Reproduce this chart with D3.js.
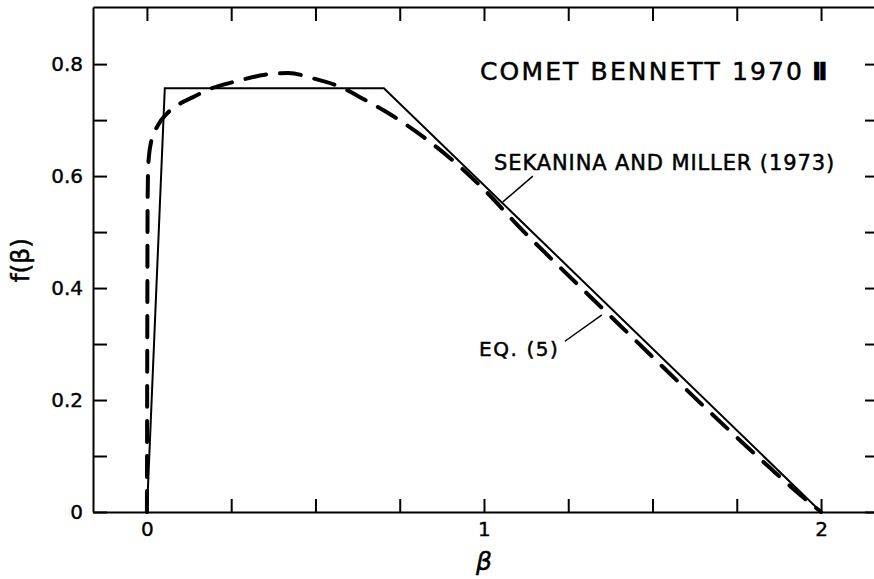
<!DOCTYPE html>
<html>
<head>
<meta charset="utf-8">
<script src="https://cdn.jsdelivr.net/npm/d3@7"></script>
<style>
body { margin: 0; background: #fff; }
svg { display: block; }
.axis path, .axis line { stroke: #000; stroke-width: 2; }
.axis text { font-family: "DejaVu Sans", sans-serif; font-size: 20px; fill: #000; stroke: #000; stroke-width: 0.4; }
.lbl { font-family: "DejaVu Sans", sans-serif; fill: #000; stroke: #000; stroke-width: 0.5; }
</style>
</head>
<body>
<div class="chart"></div>
<script>
// Data ---------------------------------------------------------------------
// Sekanina and Miller (1973): trapezoid
const smBeta = [0, 0.053, 0.703, 2.0];
const smF = [0, 0.757, 0.757, 0];

// Eq. (5): dashed curve
const eqBeta = [0, 0.001, 0.002, 0.004, 0.012, 0.033, 0.06, 0.1, 0.137, 0.18, 0.27, 0.35, 0.42, 0.49, 0.593, 0.632, 0.712, 0.82, 0.93, 1.01, 1.1, 1.2, 1.344, 1.5, 1.65, 1.74, 1.85, 1.93, 2.0];
const eqF = [0, 0.3, 0.55, 0.62, 0.66, 0.691, 0.712, 0.73, 0.741, 0.754, 0.77, 0.781, 0.784, 0.775, 0.754, 0.741, 0.714, 0.67, 0.616, 0.57, 0.512, 0.452, 0.368, 0.277, 0.19, 0.139, 0.078, 0.035, 0];

const xTicks = [0, 0.25, 0.5, 0.75, 1, 1.25, 1.5, 1.75, 2];
const xTickLabels = {0: "0", 1: "1", 2: "2"};
const yTicks = [0, 0.1, 0.2, 0.3, 0.4, 0.5, 0.6, 0.7, 0.8];
const yTickLabels = {0: "0", 0.2: "0.2", 0.4: "0.4", 0.6: "0.6", 0.8: "0.8"};

// SVG Dimensions ---------------------------------------------------------------------
const width = 874;
const height = 579;
const margin = { top: 7, right: -4, bottom: 67, left: 93 };

const svg = d3.select(".chart")
  .append("svg")
  .attr("width", width)
  .attr("height", height);

// Scales ---------------------------------------------------------------------
const xScale = d3.scaleLinear()
  .domain([-0.16, 2.169])
  .range([margin.left, width - margin.right]);

const yScale = d3.scaleLinear()
  .domain([0, 0.902])
  .range([height - margin.bottom, margin.top]);

// Axes (ticks pointing inward) ---------------------------------------------------------------------
const xAxis = d3.axisBottom(xScale)
  .tickValues(xTicks)
  .tickSizeInner(-13).tickSizeOuter(0)
  .tickPadding(10)
  .tickFormat(d => xTickLabels[d] || "");
svg.append("g")
  .attr("class", "axis")
  .attr("transform", `translate(0,${height - margin.bottom})`)
  .call(xAxis);

svg.append("g")
  .attr("class", "axis")
  .attr("transform", `translate(0,${margin.top})`)
  .call(d3.axisTop(xScale).tickValues(xTicks).tickSizeInner(-14).tickSizeOuter(0).tickFormat(""));

const yAxis = d3.axisLeft(yScale)
  .tickValues(yTicks)
  .tickSizeInner(-14).tickSizeOuter(0)
  .tickPadding(10)
  .tickFormat(d => yTickLabels[d] || "");
svg.append("g")
  .attr("class", "axis")
  .attr("transform", `translate(${margin.left},0)`)
  .call(yAxis);

svg.append("g")
  .attr("class", "axis")
  .attr("transform", `translate(${width - margin.right},0)`)
  .call(d3.axisRight(yScale).tickValues(yTicks).tickSizeInner(-13).tickSizeOuter(0).tickFormat(""));

// Lines ---------------------------------------------------------------------
const smLine = d3.line()
  .x((d, i) => xScale(smBeta[i]))
  .y((d, i) => yScale(smF[i]));

svg.append("path")
  .datum(smBeta)
  .attr("fill", "none")
  .attr("stroke", "#000")
  .attr("stroke-width", 2)
  .attr("d", smLine);

const eqLine = d3.line()
  .x((d, i) => xScale(eqBeta[i]))
  .y((d, i) => yScale(eqF[i]))
  .curve(d3.curveMonotoneX);

svg.append("path")
  .datum(eqBeta)
  .attr("fill", "none")
  .attr("stroke", "#000")
  .attr("stroke-width", 4)
  .attr("stroke-linecap", "round")
  .attr("stroke-dasharray", "21,14")
  .attr("d", eqLine);

// Labels ---------------------------------------------------------------------
svg.append("text")
  .attr("class", "lbl")
  .attr("x", 480).attr("y", 80)
  .attr("font-size", 25)
  .attr("textLength", 322)
  .attr("lengthAdjust", "spacing")
  .text("COMET BENNETT 1970");

svg.append("text")
  .attr("class", "lbl")
  .attr("x", 812).attr("y", 80)
  .attr("font-family", "DejaVu Serif")
  .attr("font-weight", "bold")
  .attr("font-size", 25)
  .attr("letter-spacing", -3)
  .text("II");

svg.append("text")
  .attr("class", "lbl")
  .attr("x", xScale(1.03)).attr("y", yScale(0.61))
  .attr("font-size", 21)
  .attr("textLength", 340)
  .attr("lengthAdjust", "spacing")
  .text("SEKANINA AND MILLER (1973)");

svg.append("line")
  .attr("x1", xScale(1.145)).attr("y1", yScale(0.6))
  .attr("x2", xScale(1.056)).attr("y2", yScale(0.554))
  .attr("stroke", "#000").attr("stroke-width", 1.5);

svg.append("text")
  .attr("class", "lbl")
  .attr("x", xScale(0.985)).attr("y", yScale(0.279))
  .attr("font-size", 20)
  .attr("textLength", 79)
  .attr("lengthAdjust", "spacing")
  .text("EQ. (5)");

svg.append("line")
  .attr("x1", xScale(1.24)).attr("y1", yScale(0.305))
  .attr("x2", xScale(1.35)).attr("y2", yScale(0.352))
  .attr("stroke", "#000").attr("stroke-width", 1.5);

// Axis titles
svg.append("text")
  .attr("class", "lbl")
  .attr("x", xScale(1)).attr("y", 570)
  .attr("text-anchor", "middle")
  .attr("font-size", 25)
  .attr("font-style", "italic")
  .text("β");

svg.append("text")
  .attr("class", "lbl")
  .attr("transform", `translate(29,${yScale(0.45)}) rotate(-90)`)
  .attr("text-anchor", "middle")
  .attr("font-size", 25)
  .text("f(β)");
</script>
</body>
</html>
